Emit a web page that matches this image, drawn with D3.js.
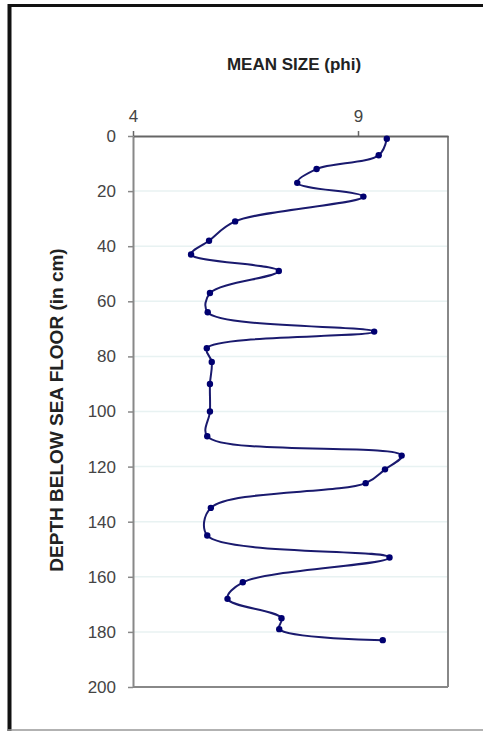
<!DOCTYPE html>
<html>
<head>
<meta charset="utf-8">
<script src="https://cdn.jsdelivr.net/npm/d3@7"></script>
<style>
  body { margin: 0; background: #fff; }
  text { font-family: "Liberation Sans", Arial, sans-serif; }
</style>
</head>
<body>
<script>
// depth below sea floor (cm) and mean grain size (phi)
const depths = [1, 7, 12, 17, 22, 31, 38, 43, 49, 57, 64, 71, 77, 82, 90, 100, 109, 116, 121, 126, 135, 145, 153, 162, 168, 175, 179, 183];
const meanSize = [9.64, 9.46, 8.08, 7.65, 9.12, 6.27, 5.69, 5.29, 7.24, 5.71, 5.66, 9.36, 5.64, 5.75, 5.71, 5.71, 5.65, 9.97, 9.6, 9.17, 5.73, 5.65, 9.7, 6.44, 6.1, 7.3, 7.25, 9.55];
const xTicks = [4, 9];
const yTicks = [0, 20, 40, 60, 80, 100, 120, 140, 160, 180, 200];

const svg = d3.select("body").append("svg")
	.attr("width", 483)
	.attr("height", 732);

// outer frame
svg.append("line").attr("x1", 9.5).attr("y1", 4).attr("x2", 9.5).attr("y2", 731)
	.attr("stroke", "#111").attr("stroke-width", 4);
svg.append("line").attr("x1", 8).attr("y1", 5.5).attr("x2", 483).attr("y2", 5.5)
	.attr("stroke", "#111").attr("stroke-width", 3);
svg.append("line").attr("x1", 8).attr("y1", 730).attr("x2", 483).attr("y2", 730)
	.attr("stroke", "#999").attr("stroke-width", 1.5);

const x = d3.scaleLinear().domain([4, 11]).range([133, 448]);
const y = d3.scaleLinear().domain([0, 200]).range([136, 687]);

// faint gridlines
svg.append("g")
	.selectAll("line")
	.data(yTicks.slice(1, -1))
	.join("line")
	.attr("x1", x(4)).attr("x2", x(11))
	.attr("y1", d => y(d)).attr("y2", d => y(d))
	.attr("stroke", "#e8f2f2")
	.attr("stroke-width", 1.5);

// plot area border (right and bottom)
svg.append("line").attr("x1", x(11)).attr("y1", y(0)).attr("x2", x(11)).attr("y2", y(200))
	.attr("stroke", "#888").attr("stroke-width", 2);
svg.append("line").attr("x1", x(4)).attr("y1", y(200)).attr("x2", x(11)).attr("y2", y(200))
	.attr("stroke", "#888").attr("stroke-width", 2);

// left axis
const yAxis = svg.append("g")
	.attr("transform", `translate(${x(4)},0)`)
	.call(d3.axisLeft(y).tickValues(yTicks).tickSize(5).tickPadding(12).tickSizeOuter(0));
yAxis.select(".domain").attr("stroke", "#888").attr("stroke-width", 2);
yAxis.selectAll(".tick line").attr("stroke", "#888").attr("stroke-width", 1.5);
yAxis.selectAll(".tick text")
	.attr("fill", "#444")
	.style("font-size", "17px")
	.style("font-family", "'Liberation Sans', Arial, sans-serif");

// top axis
const xAxis = svg.append("g")
	.attr("transform", `translate(0,${y(0)})`)
	.call(d3.axisTop(x).tickValues(xTicks).tickFormat(d3.format("d")).tickSize(5).tickPadding(9).tickSizeOuter(0));
xAxis.select(".domain").attr("stroke", "#666").attr("stroke-width", 2);
xAxis.selectAll(".tick line").attr("stroke", "#666").attr("stroke-width", 1.5);
xAxis.selectAll(".tick text")
	.attr("fill", "#444")
	.style("font-size", "17px")
	.style("font-family", "'Liberation Sans', Arial, sans-serif");

// axis titles
svg.append("text")
	.attr("x", 294)
	.attr("y", 70)
	.attr("text-anchor", "middle")
	.style("font-size", "17px")
	.style("font-weight", "bold")
	.attr("fill", "#222")
	.text("MEAN  SIZE  (phi)");

svg.append("text")
	.attr("transform", "translate(63,410) rotate(-90)")
	.attr("text-anchor", "middle")
	.style("font-size", "19px")
	.style("font-weight", "bold")
	.attr("fill", "#222")
	.text("DEPTH BELOW SEA FLOOR (in cm)");

// smoothed line and markers
const points = depths.map((d, i) => ({ depth: d, phi: meanSize[i] }));

const line = d3.line()
	.x(d => x(d.phi))
	.y(d => y(d.depth))
	.curve(d3.curveCatmullRom.alpha(0.5));

svg.append("path")
	.datum(points)
	.attr("d", line)
	.attr("fill", "none")
	.attr("stroke", "#1a1a6e")
	.attr("stroke-width", 2);

svg.append("g")
	.selectAll("circle")
	.data(points)
	.join("circle")
	.attr("cx", d => x(d.phi))
	.attr("cy", d => y(d.depth))
	.attr("r", 3.2)
	.attr("fill", "#000070");
</script>
</body>
</html>
